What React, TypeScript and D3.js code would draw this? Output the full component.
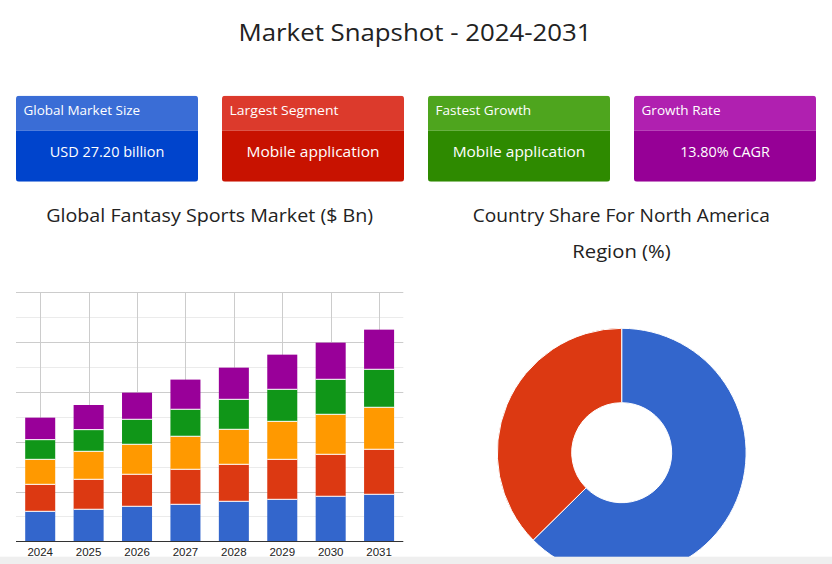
import React from "react";
import * as d3 from "d3";

const years = ["2024", "2025", "2026", "2027", "2028", "2029", "2030", "2031"];
const segmentNames = ["Segment 1", "Segment 2", "Segment 3", "Segment 4", "Segment 5"];
const segmentColors = ["#3366cc", "#dc3912", "#ff9900", "#109618", "#990099"];
const seg1 = [6.02, 6.43, 7.03, 7.43, 8.03, 8.43, 9.04, 9.44];
const seg2 = [5.42, 6.02, 6.43, 7.03, 7.43, 8.03, 8.43, 9.04];
const seg3 = [5.02, 5.62, 6.02, 6.63, 7.03, 7.63, 8.03, 8.43];
const seg4 = [3.95, 4.35, 5.02, 5.42, 6.02, 6.43, 7.03, 7.63];
const seg5 = [4.42, 4.95, 5.35, 5.96, 6.36, 6.96, 7.36, 7.96];

const countries = ["U.S.", "Canada"];
const countryShares = [62.6, 37.4];
const countryColors = ["#3366cc", "#dc3912"];

const cardTitles = ["Global Market Size", "Largest Segment", "Fastest Growth", "Growth Rate"];
const cardValues = ["USD 27.20 billion", "Mobile application", "Mobile application", "13.80% CAGR"];
const cardHeadColors = ["#3a6dd6", "#dc3a2c", "#4ea51e", "#b020b0"];
const cardBodyColors = ["#0044cc", "#c81200", "#2e8a00", "#960096"];
const cardTitleWidths = [116.7, 109, 95.7, 79];
const cardValueWidths = [114.7, 133, 132.7, 89.7];

const FONT = "'Open Sans', 'DejaVu Sans', sans-serif";

export default function App() {
  const W = 832, H = 564;
  const series = [seg1, seg2, seg3, seg4, seg5];
  const rows = years.map((y, i) => {
    const r: any = { year: y };
    segmentNames.forEach((n, k) => (r[n] = series[k][i]));
    return r;
  });
  const stacked = d3.stack().keys(segmentNames)(rows);

  const x = d3.scaleBand().domain(years).range([16, 403.3]).paddingInner(0.38).paddingOuter(0.19);
  const y = d3.scaleLinear().domain([0, 50]).range([541.3, 292.3]);
  const gridTicks = d3.range(5, 50.1, 5);

  const cx = 621.7, cy = 452.7;
  const pie = d3.pie<number>().sort(null).startAngle(0).endAngle(2 * Math.PI);
  const arcs = pie(countryShares);
  const arc = d3.arc<any>().innerRadius(50).outerRadius(124.4);

  const cardX = d3.scaleBand().domain(cardTitles).range([16, 816]).paddingInner(24 / 206).paddingOuter(0);

  return (
    <svg width={W} height={H} style={{ position: "absolute", left: 0, top: 0, background: "#fff" }} fontFamily={FONT}>
      <rect x={0} y={0} width={W} height={H} fill="#fff" />
      <text x={415} y={41} textAnchor="middle" fontSize={24} fontWeight={500} fill="#222" textLength={353} lengthAdjust="spacingAndGlyphs">
        Market Snapshot - 2024-2031
      </text>

      {cardTitles.map((t, i) => {
        const cx0 = cardX(t)!;
        const w = cardX.bandwidth();
        return (
          <g key={t}>
            <clipPath id={`cc${i}`}>
              <rect x={cx0} y={95.7} width={w} height={86} rx={3} />
            </clipPath>
            <g clipPath={`url(#cc${i})`}>
              <rect x={cx0} y={95.7} width={w} height={35} fill={cardHeadColors[i]} />
              <rect x={cx0} y={130.7} width={w} height={51} fill={cardBodyColors[i]} />
            </g>
            <text x={cx0 + 7.5} y={115} fontSize={13.5} fill="#fff" textLength={cardTitleWidths[i]} lengthAdjust="spacingAndGlyphs">{t}</text>
            <text x={cx0 + w / 2} y={156.7} fontSize={15} fontWeight={500} fill="#fff" textAnchor="middle" textLength={cardValueWidths[i]} lengthAdjust="spacingAndGlyphs">{cardValues[i]}</text>
          </g>
        );
      })}

      <text x={209.7} y={222.3} textAnchor="middle" fontSize={17.5} fontWeight={500} fill="#222" textLength={327} lengthAdjust="spacingAndGlyphs">
        Global Fantasy Sports Market ($ Bn)
      </text>
      <text x={621.3} y={221.7} textAnchor="middle" fontSize={17.5} fontWeight={500} fill="#222" textLength={297} lengthAdjust="spacingAndGlyphs">
        Country Share For North America
      </text>
      <text x={621.5} y={257.7} textAnchor="middle" fontSize={17.5} fontWeight={500} fill="#222" textLength={98.4} lengthAdjust="spacingAndGlyphs">
        Region (%)
      </text>

      {gridTicks.map((t) => (
        <line key={t} x1={16} x2={403.3} y1={Math.round(y(t)) + 0.5} y2={Math.round(y(t)) + 0.5}
          stroke={t % 10 === 0 ? "#cccccc" : "#ebebeb"} strokeWidth={1} />
      ))}
      {years.map((yr) => {
        const c = Math.round(x(yr)! + x.bandwidth() / 2) + 0.5;
        return <line key={yr} x1={c} x2={c} y1={Math.round(y(50)) + 0.5} y2={y(0)} stroke="#cccccc" strokeWidth={1} />;
      })}

      {stacked.map((s, k) => (
        <g key={s.key} fill={segmentColors[k]}>
          {s.map((d, i) => (
            <rect key={i} x={x(years[i])!} y={y(d[1])} width={x.bandwidth()} height={y(d[0]) - y(d[1])} />
          ))}
        </g>
      ))}
      {stacked.slice(1).map((s) => (
        <g key={"sep" + s.key}>
          {s.map((d, i) => (
            <line key={i} x1={x(years[i])!} x2={x(years[i])! + x.bandwidth()} y1={y(d[0])} y2={y(d[0])} stroke="#fff" strokeWidth={1} />
          ))}
        </g>
      ))}
      <line x1={16} x2={403.3} y1={541.5} y2={541.5} stroke="#333" strokeWidth={1} />
      {years.map((yr) => (
        <text key={yr} x={x(yr)! + x.bandwidth() / 2} y={555.5} textAnchor="middle" fontSize={11.5}
          fontFamily="'Liberation Sans', Arial, sans-serif" fill="#222">{yr}</text>
      ))}

      <g transform={`translate(${cx},${cy})`}>
        {arcs.map((a, i) => (
          <path key={countries[i]} d={arc(a)!} fill={countryColors[i]} stroke="#fff" strokeWidth={1} />
        ))}
      </g>

      <rect x={0} y={556.7} width={W} height={H - 556.7} fill="#efefef" />
    </svg>
  );
}
